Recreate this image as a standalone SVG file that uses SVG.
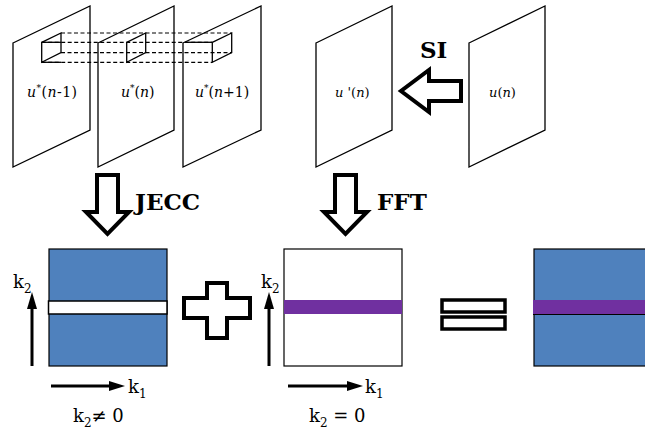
<svg xmlns="http://www.w3.org/2000/svg" width="645" height="431" viewBox="0 0 645 431">
<style>
.plane{fill:none;stroke:#000;stroke-width:1.3}
.dash{fill:none;stroke:#000;stroke-width:1.2;stroke-dasharray:4 2.5}
.slice{fill:none;stroke:#000;stroke-width:1.3}
.big{fill:#fff;stroke:#000;stroke-width:4;stroke-linejoin:miter}
text{font-family:'DejaVu Serif',serif;fill:#000}
.lbl{font-size:14px}
.lbls{font-size:13px}
.bold{font-size:23px;font-weight:bold}
.k{font-size:18px}
.ax{stroke:#000;stroke-width:3}
.blue{fill:#4F81BD;stroke:#000;stroke-width:1.2}
.purple{fill:#7030A0}
</style>
<g id="plane-n-1">
<polygon class="plane" points="13,43 90,6 90,130 13,167"/>
<text class="lbl" x="27" y="97" textLength="50"><tspan font-style="italic">u</tspan><tspan dy="-6" font-size="9">*</tspan><tspan dy="6">(</tspan><tspan font-style="italic">n</tspan>-1)</text>
</g>
<g id="plane-n">
<polygon class="plane" points="98,43 174,6 174,130 98,167"/>
<text class="lbl" x="121" y="97"><tspan font-style="italic">u</tspan><tspan dy="-6" font-size="9">*</tspan><tspan dy="6">(</tspan><tspan font-style="italic">n</tspan>)</text>
</g>
<g id="plane-n+1">
<polygon class="plane" points="183,43 261,6 261,130 183,167"/>
<text class="lbl" x="195" y="97"><tspan font-style="italic">u</tspan><tspan dy="-6" font-size="9">*</tspan><tspan dy="6">(</tspan><tspan font-style="italic">n</tspan>+1)</text>
</g>
<g id="cuboid">
<line class="dash" x1="41.7" y1="42.3" x2="212.3" y2="42.3"/>
<line class="dash" x1="41.7" y1="62.3" x2="212.3" y2="62.3"/>
<line class="dash" x1="61" y1="33" x2="231.7" y2="33"/>
<line class="dash" x1="61" y1="52.7" x2="231.7" y2="52.7"/>
<line class="slice" x1="41.7" y1="42.3" x2="61" y2="42.3"/>
<line class="slice" x1="41.7" y1="62.3" x2="61" y2="62.3"/>
<polygon class="slice" points="41.7,42.3 61,33 61,52.7 41.7,62.3"/>
<polygon class="slice" points="126.7,42.3 145.7,33 145.7,52.7 126.7,62.3"/>
<polygon class="slice" points="212.3,42.3 231.7,33 231.7,52.7 212.3,62.3"/>
<line class="slice" x1="185" y1="42.3" x2="212.3" y2="42.3"/>
</g>
<g id="plane-uprime">
<polygon class="plane" points="316,43 392,6 392,130 316,167"/>
<text class="lbls" x="335" y="97"><tspan font-style="italic">u</tspan> '(<tspan font-style="italic">n</tspan>)</text>
</g>
<g id="plane-u">
<polygon class="plane" points="469,43 545,6 545,130 469,167"/>
<text class="lbls" x="489" y="97"><tspan font-style="italic">u</tspan>(<tspan font-style="italic">n</tspan>)</text>
</g>
<g id="connectors">
<polygon class="big" points="461,81 429,81 429,70 401,91 429,112 429,101 461,101"/>
<text class="bold" x="420" y="58">SI</text>
<polygon class="big" points="97,175 118,175 118,212 129,212 107.5,234 86,212 97,212"/>
<text class="bold" x="135" y="210">JECC</text>
<polygon class="big" points="335,175 356,175 356,212 367,212 345.5,234 324,212 335,212"/>
<text class="bold" x="377" y="210">FFT</text>
</g>
<g id="spectrum-jecc">
<rect class="blue" x="49" y="249" width="118" height="117"/>
<rect x="48.5" y="301" width="118.5" height="13" fill="#fff" stroke="#000" stroke-width="1.5"/>
<line class="ax" x1="32" y1="366" x2="32" y2="305"/>
<polygon points="32,292 27,309 37,309" fill="#000"/>
<line class="ax" x1="51" y1="386" x2="112" y2="386"/>
<polygon points="125,386 109,381 109,391" fill="#000"/>
<text class="k" x="13" y="288">k<tspan dy="5" font-size="12">2</tspan></text>
<text class="k" x="128" y="393">k<tspan dy="5" font-size="12">1</tspan></text>
<text class="k" x="73" y="422">k<tspan dy="5" font-size="12">2</tspan><tspan dy="-5">≠ 0</tspan></text>
</g>
<g id="plus">
<polygon class="big" points="207,283 227,283 227,298 250,298 250,318 227,318 227,338 207,338 207,318 184,318 184,298 207,298"/>
</g>
<g id="spectrum-fft">
<rect x="284" y="249" width="118" height="117" fill="#fff" stroke="#000" stroke-width="1.2"/>
<rect class="purple" x="284" y="300" width="118" height="14"/>
<line class="ax" x1="269" y1="366" x2="269" y2="305"/>
<polygon points="269,292 264,309 274,309" fill="#000"/>
<line class="ax" x1="288" y1="386" x2="350" y2="386"/>
<polygon points="363,386 347,381 347,391" fill="#000"/>
<text class="k" x="261" y="288">k<tspan dy="5" font-size="12">2</tspan></text>
<text class="k" x="365" y="393">k<tspan dy="5" font-size="12">1</tspan></text>
<text class="k" x="309" y="422">k<tspan dy="5" font-size="12">2</tspan><tspan dy="-5"> = 0</tspan></text>
</g>
<g id="equals">
<rect x="442" y="300" width="63" height="12" fill="#fff" stroke="#000" stroke-width="3.5"/>
<rect x="442" y="317" width="63" height="12" fill="#fff" stroke="#000" stroke-width="3.5"/>
</g>
<g id="spectrum-result">
<rect class="blue" x="534" y="249" width="120" height="117"/>
<rect class="purple" x="533" y="300" width="120" height="14"/>
<line x1="533" y1="314.5" x2="645" y2="314.5" stroke="#000" stroke-width="1"/>
</g>
</svg>
